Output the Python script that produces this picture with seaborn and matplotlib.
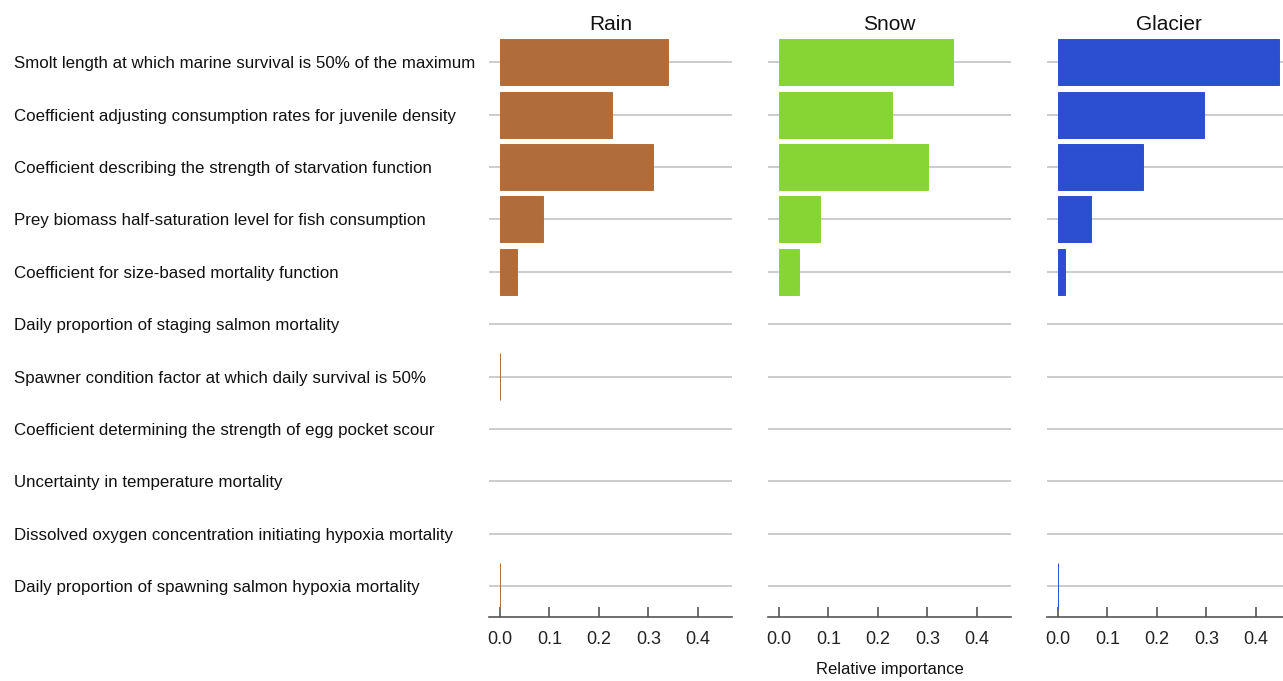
import matplotlib
matplotlib.use("Agg")
import matplotlib.pyplot as plt
import seaborn as sns
import pandas as pd

parameters = [
    "Smolt length at which marine survival is 50% of the maximum",
    "Coefficient adjusting consumption rates for juvenile density",
    "Coefficient describing the strength of starvation function",
    "Prey biomass half-saturation level for fish consumption",
    "Coefficient for size-based mortality function",
    "Daily proportion of staging salmon mortality",
    "Spawner condition factor at which daily survival is 50%",
    "Coefficient determining the strength of egg pocket scour",
    "Uncertainty in temperature mortality",
    "Dissolved oxygen concentration initiating hypoxia mortality",
    "Daily proportion of spawning salmon hypoxia mortality",
]
regimes = ["Rain", "Snow", "Glacier"]
rain = [0.339, 0.226, 0.309, 0.087, 0.034, 0.0, 0.001, 0.0, 0.0, 0.0, 0.001]
snow = [0.352, 0.228, 0.301, 0.083, 0.040, 0.0, 0.0, 0.0, 0.0, 0.0, 0.0]
glacier = [0.447, 0.295, 0.172, 0.067, 0.014, 0.0, 0.0, 0.0, 0.0, 0.0, 0.001]
colors = ["#B06D3B", "#87D535", "#2B4FD0"]
x_ticks = [0.0, 0.1, 0.2, 0.3, 0.4]

df = pd.DataFrame({
    "parameter": parameters * 3,
    "regime": sum([[r] * len(parameters) for r in regimes], []),
    "importance": rain + snow + glacier,
})

sns.set_theme(style="white")
plt.rcParams["font.family"] = ["Liberation Sans", "DejaVu Sans"]

fig = plt.figure(figsize=(12.83, 6.81), dpi=100)
lefts = [489, 768, 1047]
W, H = 1283, 681
top_px, bottom_px = 36, 617
axes = []
for i, (regime, col) in enumerate(zip(regimes, colors)):
    ax = fig.add_axes([lefts[i] / W, 1 - bottom_px / H, 243 / W, (bottom_px - top_px) / H])
    sub = df[df["regime"] == regime]
    sns.barplot(data=sub, x="importance", y="parameter", orient="h",
                color=col, saturation=1, width=0.88, linewidth=0,
                order=parameters, ax=ax, zorder=2)
    # keep very small non-zero importances visible as hairlines
    for p in ax.patches:
        if p.get_width() > 0:
            p.set_edgecolor(col)
            p.set_linewidth(0.7)
    ax.yaxis.grid(True, color="#CCCCCC", linewidth=1.4, zorder=0)
    ax.xaxis.grid(False)
    ax.set_axisbelow(True)
    ax.set_xlim(-0.022, 0.469)
    ax.set_ylim(10.59, -0.5)
    ax.set_xticks(x_ticks)
    ax.set_xticklabels([f"{t:.1f}" for t in x_ticks], fontsize=13, color="#222222")
    ax.tick_params(axis="x", bottom=True, direction="in", length=7, width=1.2,
                   color="#555555", pad=10)
    ax.set_xlabel("")
    ax.set_ylabel("")
    for s in ["top", "right", "left"]:
        ax.spines[s].set_visible(False)
    ax.spines["bottom"].set_color("#555555")
    ax.spines["bottom"].set_linewidth(1.2)
    ax.set_title(regime, fontsize=15, color="#111111", pad=4)
    if i == 0:
        ax.tick_params(axis="y", length=0, pad=342)
        for lab in ax.get_yticklabels():
            lab.set_horizontalalignment("left")
            lab.set_fontsize(12.2)
            lab.set_color("#111111")
    else:
        ax.set_yticklabels([])
        ax.tick_params(axis="y", length=0)
    axes.append(ax)

axes[1].set_xlabel("Relative importance", fontsize=12, color="#111111", labelpad=10)

fig.savefig("out.png", dpi=100)
